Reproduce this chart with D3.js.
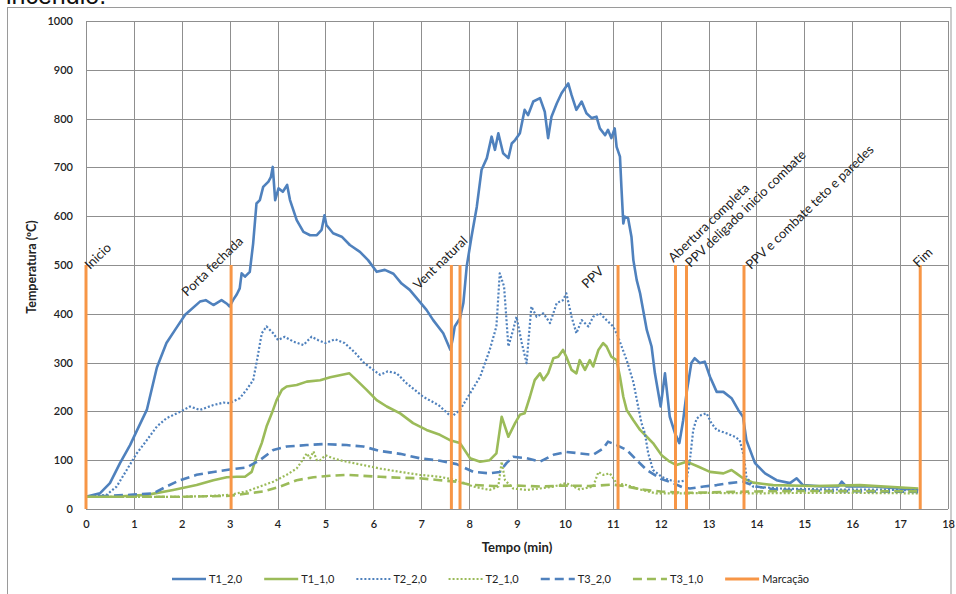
<!DOCTYPE html>
<html>
<head>
<meta charset="utf-8">
<script src="https://cdn.jsdelivr.net/npm/d3@7"></script>
<style>
  html, body { margin: 0; padding: 0; background: #fff; }
  svg { display: block; font-family: Lato, "Open Sans", "Liberation Sans", sans-serif; }
</style>
</head>
<body>
<svg id="chart" width="956" height="594"></svg>
<script>
// Temperature readings, [tempo (min), temperatura (ºC)]
const T1_20 = [[0,25],[0.29,32],[0.5,53],[0.71,94],[0.92,131],[1.06,160],[1.27,203],[1.48,290],[1.68,340],[1.86,367],[2.07,398],[2.38,425],[2.5,428],[2.66,418],[2.83,428],[2.95,420],[3.0,415],[3.07,428],[3.15,440],[3.21,452],[3.25,483],[3.32,476],[3.42,486],[3.49,544],[3.56,626],[3.63,633],[3.70,660],[3.81,671],[3.86,680],[3.90,701],[3.95,633],[4.02,657],[4.11,650],[4.20,664],[4.26,633],[4.40,592],[4.54,568],[4.68,561],[4.82,561],[4.92,572],[4.98,602],[5.02,582],[5.16,565],[5.34,558],[5.51,541],[5.72,527],[5.89,510],[6.07,486],[6.24,490],[6.42,482],[6.59,462],[6.76,449],[6.94,428],[7.11,408],[7.25,387],[7.46,360],[7.61,326],[7.66,350],[7.70,374],[7.81,391],[7.88,422],[7.95,497],[8.05,558],[8.16,619],[8.26,695],[8.37,719],[8.47,763],[8.54,736],[8.61,770],[8.71,729],[8.82,719],[8.89,749],[8.96,756],[9.06,770],[9.16,818],[9.23,807],[9.34,835],[9.48,842],[9.58,814],[9.65,760],[9.72,804],[9.83,831],[9.93,852],[10.07,872],[10.14,848],[10.24,818],[10.35,835],[10.45,811],[10.56,801],[10.66,804],[10.73,780],[10.84,766],[10.90,777],[10.97,760],[11.04,780],[11.08,742],[11.15,722],[11.18,660],[11.22,585],[11.25,599],[11.32,596],[11.39,558],[11.43,510],[11.50,469],[11.57,442],[11.71,367],[11.81,333],[11.88,278],[12.0,210],[12.09,278],[12.19,189],[12.30,155],[12.39,135],[12.47,182],[12.54,237],[12.64,299],[12.71,309],[12.82,299],[12.92,302],[13.03,271],[13.17,240],[13.31,240],[13.48,227],[13.62,203],[13.72,189],[13.79,141],[13.97,94],[14.18,73],[14.42,59],[14.70,53],[14.84,63],[14.97,49],[15.39,46],[15.71,46],[15.78,56],[15.88,46],[16.44,46],[17.38,39]];

const T1_10 = [[0,25],[0.57,25],[1.27,29],[1.82,39],[2.31,49],[2.66,59],[2.94,65],[3.15,66],[3.32,66],[3.46,76],[3.56,107],[3.67,135],[3.77,169],[3.88,196],[3.98,223],[4.09,244],[4.19,251],[4.40,254],[4.61,261],[4.89,264],[5.1,270],[5.35,275],[5.5,278],[5.65,264],[5.86,244],[6.07,223],[6.28,210],[6.56,196],[6.83,176],[7.11,162],[7.39,152],[7.60,141],[7.81,135],[8.02,104],[8.23,97],[8.43,100],[8.57,114],[8.68,189],[8.82,148],[8.96,176],[9.06,193],[9.16,196],[9.27,230],[9.37,264],[9.48,278],[9.55,264],[9.65,278],[9.76,309],[9.86,312],[9.96,326],[10.03,312],[10.14,285],[10.24,278],[10.31,305],[10.42,285],[10.52,305],[10.59,292],[10.70,326],[10.80,340],[10.87,333],[10.97,312],[11.08,305],[11.15,271],[11.22,230],[11.29,203],[11.43,182],[11.57,162],[11.71,148],[11.84,135],[12.02,110],[12.19,97],[12.33,90],[12.54,97],[12.78,87],[13.03,76],[13.31,73],[13.48,80],[13.58,73],[13.72,63],[13.93,54],[14.35,49],[15.2,47],[16.16,49],[17.38,42]];

const T2_20 = [[0,25],[0.43,29],[0.64,46],[0.85,80],[1.06,114],[1.27,141],[1.48,169],[1.68,186],[1.96,199],[2.17,210],[2.38,203],[2.66,213],[2.87,218],[3.0,217],[3.21,227],[3.35,244],[3.49,264],[3.56,299],[3.67,360],[3.77,374],[3.91,360],[4.01,346],[4.15,353],[4.33,343],[4.54,336],[4.71,353],[4.85,346],[5.0,340],[5.2,348],[5.4,340],[5.6,322],[5.8,300],[6.0,285],[6.14,275],[6.3,282],[6.49,278],[6.69,258],[7.04,230],[7.36,213],[7.63,189],[7.81,203],[8.02,237],[8.23,271],[8.43,326],[8.57,374],[8.64,483],[8.73,456],[8.82,333],[8.92,367],[8.99,394],[9.10,340],[9.20,299],[9.30,415],[9.41,394],[9.55,401],[9.69,381],[9.83,422],[9.96,428],[10.03,442],[10.14,394],[10.24,360],[10.35,387],[10.49,374],[10.59,394],[10.73,401],[10.87,387],[11.01,374],[11.11,353],[11.29,305],[11.43,260],[11.53,210],[11.60,176],[11.67,155],[11.74,114],[11.84,80],[12.02,66],[12.19,59],[12.40,56],[12.54,59],[12.61,100],[12.68,162],[12.75,185],[12.85,193],[12.96,196],[13.06,176],[13.17,162],[13.38,155],[13.55,148],[13.65,141],[13.74,107],[13.79,66],[13.93,46],[14.5,42],[15.5,40],[16.5,40],[17.38,38]];

const T2_10 = [[0,25],[1.96,25],[2.66,27],[3.0,29],[3.35,36],[3.63,46],[3.91,56],[4.19,70],[4.40,83],[4.52,100],[4.61,114],[4.68,104],[4.75,118],[4.82,100],[4.89,100],[5.0,110],[5.16,104],[5.3,100],[5.44,97],[5.79,90],[6.14,83],[6.56,76],[6.97,70],[7.39,66],[7.74,59],[8.09,46],[8.43,39],[8.61,46],[8.68,97],[8.75,59],[8.92,42],[9.20,39],[9.48,42],[9.76,46],[10.03,53],[10.31,40],[10.59,46],[10.70,76],[10.80,70],[10.94,73],[11.08,53],[11.29,49],[11.57,40],[11.9,32],[12.5,32],[13.0,33],[14.0,32],[15.0,33],[16.0,33],[17.38,32]];

const T3_20 = [[0,25],[0.92,29],[1.40,32],[1.68,46],[1.96,59],[2.31,70],[2.66,76],[3.0,81],[3.35,85],[3.63,100],[3.91,121],[4.19,128],[4.61,131],[4.95,133],[5.44,131],[5.79,128],[6.14,119],[6.56,113],[6.97,104],[7.39,99],[7.74,92],[8.09,76],[8.43,73],[8.64,76],[8.78,94],[8.92,107],[9.20,104],[9.48,97],[9.76,111],[10.03,117],[10.31,114],[10.59,111],[10.80,124],[10.90,138],[11.08,131],[11.29,121],[11.50,100],[11.71,80],[12.0,62],[12.26,53],[12.47,44],[12.61,42],[12.9,46],[13.17,49],[13.44,53],[13.72,56],[14.0,46],[14.4,40],[15.5,37],[16.5,36],[17.38,35]];

const T3_10 = [[0,25],[2.0,25],[3.0,27],[3.70,36],[4.05,46],[4.40,59],[4.75,65],[5.09,68],[5.44,70],[5.79,68],[6.14,66],[6.56,64],[6.97,63],[7.39,59],[7.74,56],[8.0,50],[8.5,47],[9.0,48],[9.5,46],[10.0,48],[10.5,47],[11.0,50],[11.3,46],[11.6,40],[12.0,36],[12.5,33],[13.0,34],[13.5,35],[14.0,36],[15.0,37],[16.0,37],[17.38,36]];

// Event markers ("Marcação"): time of each event, height of the bar, caption
const markTimes  = [0, 3.03, 7.63, 7.81, 11.11, 12.31, 12.54, 13.74, 17.42];
const markHeight = 500;
const markLabels = ["Inicio", "Porta fechada", "Vent natural", "", "PPV",
                    "Abertura completa", "PPV deligado inicio combate",
                    "PPV e combate teto e paredes", "Fim"];

const xTicks = d3.range(0, 19, 1);
const yTicks = d3.range(0, 1001, 100);
const seriesNames = ["T1_2,0", "T1_1,0", "T2_2,0", "T2_1,0", "T3_2,0", "T3_1,0"];
const seriesData  = [T1_20, T1_10, T2_20, T2_10, T3_20, T3_10];

// ---- styling ----
const BLUE = "#4F81BD", GREEN = "#9BBB59", ORANGE = "#F79646", GRID = "#8f8f8f";
const styles = [
  { color: BLUE,  width: 2.6, dash: null },
  { color: GREEN, width: 2.6, dash: null },
  { color: BLUE,  width: 2.2, dash: "2,2" },
  { color: GREEN, width: 2.2, dash: "2,2" },
  { color: BLUE,  width: 2.6, dash: "9,5" },
  { color: GREEN, width: 2.6, dash: "9,5" }
];
// caption placement: baseline start relative to the top of its bar (px)
const captionNudge = [[4,5],[-44,32],[-33,25],null,[-31,24],[-2,-2],[4,3],[7,5],[-2,3]];

const svg = d3.select("#chart");

// caption line cut off at the top edge
svg.append("text").attr("x", 6).attr("y", 4)
  .attr("font-family", "Liberation Sans, Arial, sans-serif")
  .attr("font-size", 25).attr("fill", "#111").text("incendio.");

// outer chart frame
svg.append("rect").attr("x", 7.5).attr("y", 7.5).attr("width", 943.5).attr("height", 600)
  .attr("fill", "none").attr("stroke", "#9a9a9a").attr("stroke-width", 1);

const x = d3.scaleLinear().domain([0, 18]).range([86, 948]);
const y = d3.scaleLinear().domain([0, 1000]).range([509, 21]);

// gridlines
const grid = svg.append("g").attr("stroke", GRID).attr("stroke-width", 1).attr("shape-rendering", "crispEdges");
grid.selectAll(".v").data(xTicks).join("line")
  .attr("x1", d => Math.round(x(d)) + 0.5).attr("x2", d => Math.round(x(d)) + 0.5)
  .attr("y1", y(0)).attr("y2", y(1000));
grid.selectAll(".h").data(yTicks).join("line")
  .attr("y1", d => Math.round(y(d)) + 0.5).attr("y2", d => Math.round(y(d)) + 0.5)
  .attr("x1", x(0)).attr("x2", x(18));

// axes (labels only; the grid provides the lines)
const yAxis = svg.append("g").attr("transform", `translate(${x(0)},0)`)
  .call(d3.axisLeft(y).tickValues(yTicks).tickFormat(d3.format("d")).tickSize(0).tickPadding(13));
const xAxis = svg.append("g").attr("transform", `translate(0,${y(0)})`)
  .call(d3.axisBottom(x).tickValues(xTicks).tickFormat(d3.format("d")).tickSize(0).tickPadding(11));
[yAxis, xAxis].forEach(a => {
  a.select(".domain").remove();
  a.selectAll("text").attr("font-family", "Lato, sans-serif").attr("font-size", 11)
    .attr("font-weight", 600).attr("fill", "#222");
});

// axis titles
svg.append("text").attr("transform", "translate(36,267) rotate(-90)")
  .attr("text-anchor", "middle").attr("font-size", 12.5).attr("font-weight", 700).attr("fill", "#222")
  .text("Temperatura (ºC)");
svg.append("text").attr("x", 517).attr("y", 552)
  .attr("text-anchor", "middle").attr("font-size", 13).attr("font-weight", 700).attr("fill", "#222")
  .text("Tempo (min)");

// temperature series
const line = d3.line().x(d => x(d[0])).y(d => y(d[1]));
const plot = svg.append("g").attr("fill", "none").attr("stroke-linejoin", "round");
seriesData.forEach((s, i) => {
  plot.append("path").datum(s)
    .attr("d", line)
    .attr("stroke", styles[i].color)
    .attr("stroke-width", styles[i].width)
    .attr("stroke-dasharray", styles[i].dash);
});

// event bars and captions
const marks = markTimes.map((t, i) => ({ t, label: markLabels[i], nudge: captionNudge[i] }));
svg.append("g").selectAll("line").data(marks).join("line")
  .attr("x1", d => x(d.t)).attr("x2", d => x(d.t))
  .attr("y1", y(0)).attr("y2", y(markHeight))
  .attr("stroke", ORANGE).attr("stroke-width", 3);
svg.append("g").selectAll("text").data(marks.filter(d => d.label)).join("text")
  .attr("transform", d => `translate(${x(d.t) + d.nudge[0]},${y(markHeight) + d.nudge[1]}) rotate(-44)`)
  .attr("font-size", 13).attr("fill", "#222")
  .text(d => d.label);

// legend
const legendItems = seriesNames.map((n, i) => ({ name: n, ...styles[i] }))
  .concat([{ name: "Marcação", color: ORANGE, width: 3, dash: null }]);
const legend = svg.append("g").attr("transform", "translate(172,579)");
let cx = 0;
legendItems.forEach(it => {
  const g = legend.append("g").attr("transform", `translate(${cx},0)`);
  g.append("line").attr("x1", 0).attr("x2", 34).attr("y1", 0).attr("y2", 0)
    .attr("stroke", it.color).attr("stroke-width", it.width).attr("stroke-dasharray", it.dash);
  const t = g.append("text").attr("x", 37).attr("y", 4).attr("font-size", 11).attr("fill", "#222").text(it.name);
  cx += 37 + t.node().getComputedTextLength() + 22;
});
</script>
</body>
</html>
